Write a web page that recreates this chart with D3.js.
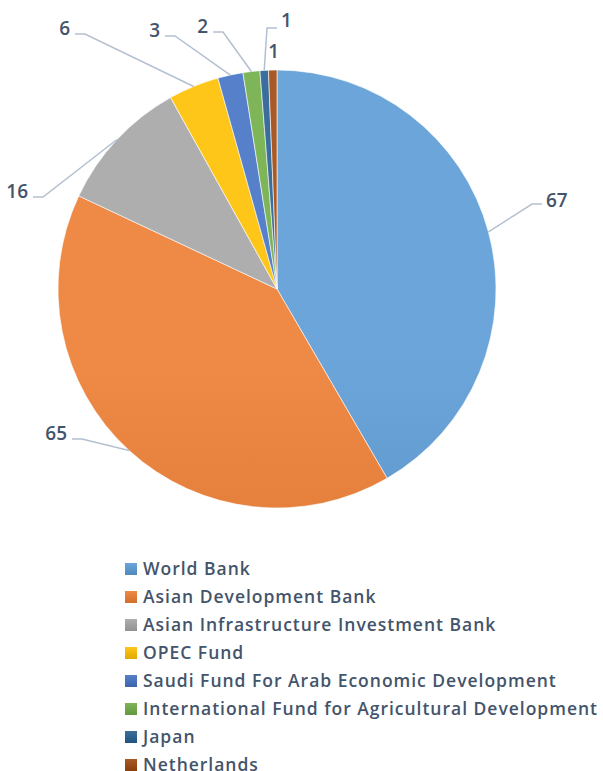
<!DOCTYPE html>
<html>
<head>
<meta charset="utf-8">
<script src="https://cdn.jsdelivr.net/npm/d3@7.9.0/dist/d3.min.js"></script>
<style>
  html, body { margin: 0; padding: 0; background: #fff; }
  svg { display: block; font-family: "Open Sans", Lato, sans-serif; font-weight: 600; }
</style>
</head>
<body>
<div id="chart"></div>
<script>
// ------- data -------
const categories = [
  'World Bank',
  'Asian Development Bank',
  'Asian Infrastructure Investment Bank',
  'OPEC Fund',
  'Saudi Fund For Arab Economic Development',
  'International Fund for Agricultural Development',
  'Japan',
  'Netherlands'
];
const values = [67, 65, 16, 6, 3, 2, 1, 1];
const colors = ['#5b9bd5', '#ed7d31', '#a5a5a5', '#ffc000', '#4472c4', '#70ad47', '#255e91', '#9e480e'];

// label elbow offsets from pie centre (null = label sits by the slice, no leader)
const labelElbows = [[255, -85], [-195, 150], [-234, -92], [-192, -255], [-102, -253], [-54, -257], [-10, -261], null];
const labelSide   = ['right', 'left', 'left', 'left', 'left', 'left', 'right', 'none'];

// ------- layout -------
const width = 603, height = 771;
const cx = 277, cy = 289, radius = 219;
const textColor = '#44546a';
const lineColor = '#b4c0d0';
const legendWidth = 454;   // width of the longest legend entry in the reference

const svg = d3.select('#chart').append('svg')
  .attr('width', width)
  .attr('height', height);

const slices = d3.pie().sort(null).value(d => d)(values);
const arc = d3.arc().innerRadius(0).outerRadius(radius);
const rim = d3.arc().innerRadius(radius).outerRadius(radius);

const light = c => d3.interpolateRgb(c, '#fff')(0.1);
const dark  = c => d3.interpolateRgb(c, '#000')(0.12);

// vertical gradients, lighter at the top of the pie
const defs = svg.append('defs');
colors.forEach((c, i) => {
  const g = defs.append('linearGradient')
    .attr('id', `grad-${i}`)
    .attr('gradientUnits', 'userSpaceOnUse')
    .attr('x1', 0).attr('x2', 0)
    .attr('y1', cy - radius).attr('y2', cy + radius);
  g.append('stop').attr('offset', 0).attr('stop-color', light(c));
  g.append('stop').attr('offset', 1).attr('stop-color', dark(c));

  const l = defs.append('linearGradient')
    .attr('id', `leg-${i}`)
    .attr('x1', 0).attr('x2', 0).attr('y1', 0).attr('y2', 1);
  l.append('stop').attr('offset', 0).attr('stop-color', light(c));
  l.append('stop').attr('offset', 1).attr('stop-color', dark(c));
});

const pie = svg.append('g').attr('transform', `translate(${cx},${cy})`);

pie.selectAll('path')
  .data(slices)
  .join('path')
  .attr('d', arc)
  .attr('fill', (d, i) => `url(#grad-${i})`)
  .attr('stroke', '#fff')
  .attr('stroke-width', 0.6);

// ------- data labels -------
const labels = pie.append('g').attr('class', 'labels')
  .attr('fill', textColor)
  .attr('font-size', 19);

slices.forEach((d, i) => {
  const [sx, sy] = rim.centroid(d);
  const elbow = labelElbows[i];
  if (!elbow) {
    // tiny slice: label placed right above its rim
    labels.append('text')
      .attr('x', sx + 1).attr('y', sy - 12)
      .attr('text-anchor', 'middle')
      .text(values[i]);
    return;
  }
  const [ex, ey] = elbow;
  const side = labelSide[i];
  const hx = side === 'right' ? ex + 10 : ex - 10;
  labels.append('polyline')
    .attr('points', `${sx},${sy} ${ex},${ey} ${hx},${ey}`)
    .attr('fill', 'none')
    .attr('stroke', lineColor)
    .attr('stroke-width', 1.5);
  labels.append('text')
    .attr('x', side === 'right' ? hx + 4 : hx - 5)
    .attr('y', ey + 1)
    .attr('dy', i === 0 ? '0.1em' : (i === 6 ? '-0.1em' : 0))
    .attr('text-anchor', side === 'right' ? 'start' : 'end')
    .text(values[i]);
});

// ------- legend -------
const legendRow = d3.scaleBand()
  .domain(categories)
  .range([555, 779]);

const legend = svg.append('g').attr('class', 'legend');
const items = legend.selectAll('g')
  .data(categories)
  .join('g')
  .attr('transform', d => `translate(125,${legendRow(d)})`);

items.append('rect')
  .attr('y', 8)
  .attr('width', 12).attr('height', 12)
  .attr('fill', (d, i) => `url(#leg-${i})`);

const legendText = items.append('text')
  .attr('x', 18)
  .attr('y', 20)
  .attr('fill', textColor)
  .attr('font-size', 17.5)
  .text(d => d);

// spread letters so the longest entry is as wide as in the reference
const longest = d3.greatest(legendText.nodes(), n => n.getComputedTextLength());
const nChars = longest.textContent.length;
const spacing = (legendWidth - longest.getComputedTextLength()) / (nChars - 1);
legendText.attr('letter-spacing', spacing);
</script>
</body>
</html>
